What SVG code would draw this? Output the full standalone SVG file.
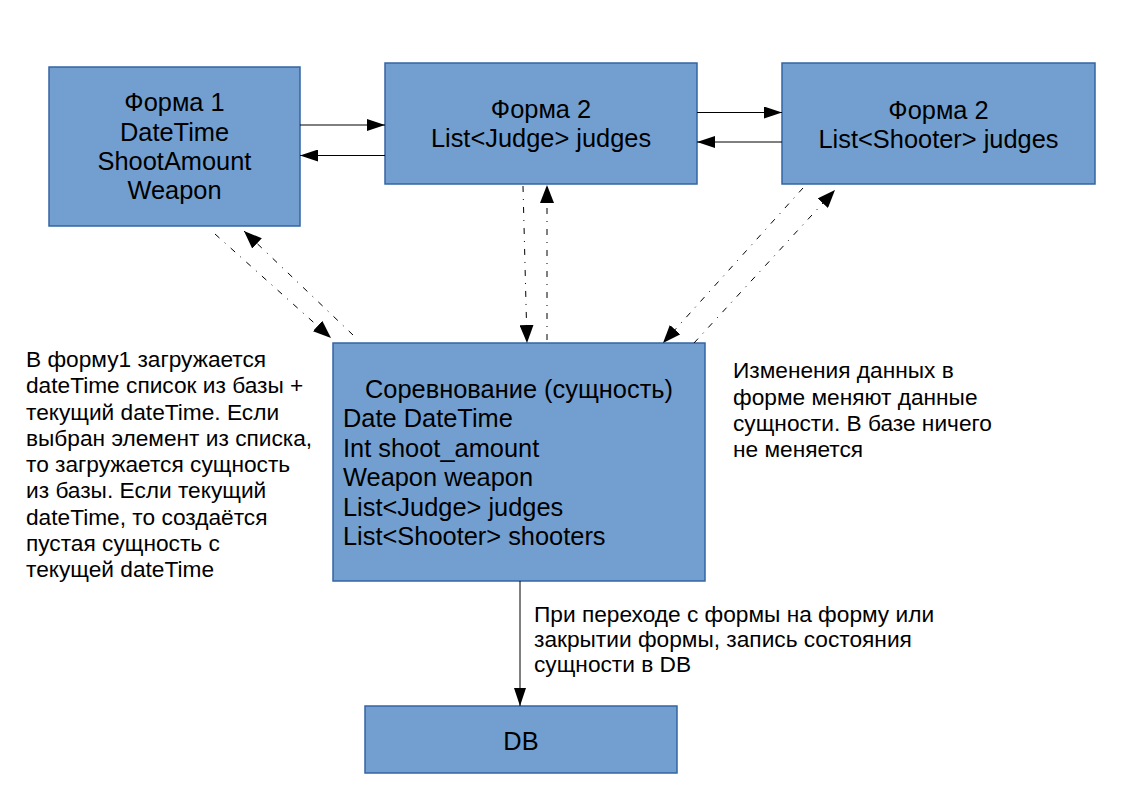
<svg xmlns="http://www.w3.org/2000/svg" width="1123" height="794" viewBox="0 0 1123 794">
<defs>
<style>
.box{fill:#729fcf;stroke:#3465a4;stroke-width:1.5}
.t{font-family:"Liberation Sans",Arial,sans-serif;font-size:25.4px;fill:#000}
.s{font-family:"Liberation Sans",Arial,sans-serif;font-size:22.7px;fill:#000}
.c{text-anchor:middle}
.ln{stroke:#000;stroke-width:1;fill:none}
.dd{stroke:#000;stroke-width:1;fill:none;stroke-dasharray:6 7 1 7}
</style>
<marker id="ah" markerUnits="userSpaceOnUse" markerWidth="18" markerHeight="12" refX="18" refY="6" orient="auto">
<path d="M0,0 L18,6 L0,12 z" fill="#000"/>
</marker>
<marker id="ahd" markerUnits="userSpaceOnUse" markerWidth="18" markerHeight="14" refX="18" refY="7" orient="auto">
<path d="M0,0 L18,7 L0,14 z" fill="#000"/>
</marker>
</defs>
<rect width="1123" height="794" fill="#fff"/>
<g id="forma1">
<rect class="box" x="49" y="67" width="251" height="159"/>
<text class="t c" x="174.5" y="111">Форма 1</text>
<text class="t c" x="174.5" y="141">DateTime</text>
<text class="t c" x="174.5" y="170">ShootAmount</text>
<text class="t c" x="174.5" y="199">Weapon</text>
</g>
<g id="forma2judges">
<rect class="box" x="385" y="63" width="312" height="121"/>
<text class="t c" x="541" y="118">Форма 2</text>
<text class="t c" x="541" y="147">List&lt;Judge&gt; judges</text>
</g>
<g id="forma2shooters">
<rect class="box" x="782" y="63" width="313" height="121"/>
<text class="t c" x="938.5" y="119">Форма 2</text>
<text class="t c" x="938.5" y="148">List&lt;Shooter&gt; judges</text>
</g>
<g id="competition">
<rect class="box" x="333" y="343" width="372" height="238"/>
<text class="t c" x="519" y="398">Соревнование (сущность)</text>
<text class="t" x="343" y="427">Date DateTime</text>
<text class="t" x="343" y="457">Int shoot_amount</text>
<text class="t" x="343" y="486">Weapon weapon</text>
<text class="t" x="343" y="516">List&lt;Judge&gt; judges</text>
<text class="t" x="343" y="545">List&lt;Shooter&gt; shooters</text>
</g>
<g id="db">
<rect class="box" x="365" y="706" width="312" height="67"/>
<text class="t c" x="521" y="750">DB</text>
</g>
<g id="notes">
<text class="s" x="26" y="367">В форму1 загружается</text>
<text class="s" x="26" y="393.3">dateTime список из базы +</text>
<text class="s" x="26" y="419.5">текущий dateTime. Если</text>
<text class="s" x="26" y="445.8">выбран элемент из списка,</text>
<text class="s" x="26" y="472">то загружается сущность</text>
<text class="s" x="26" y="498.3">из базы. Если текущий</text>
<text class="s" x="26" y="524.5">dateTime, то создаётся</text>
<text class="s" x="26" y="550.8">пустая сущность с</text>
<text class="s" x="26" y="577">текущей dateTime</text>
<text class="s" x="733" y="378">Изменения данных в</text>
<text class="s" x="733" y="404.5">форме меняют данные</text>
<text class="s" x="733" y="431">сущности. В базе ничего</text>
<text class="s" x="733" y="457">не меняется</text>
<text class="s" x="534" y="621.5">При переходе с формы на форму или</text>
<text class="s" x="534" y="646.5">закрытии формы, запись состояния</text>
<text class="s" x="534" y="671.5">сущности в DB</text>
</g>
<g id="connectors">
<line class="ln" x1="300" y1="125" x2="385" y2="125" marker-end="url(#ah)"/>
<line class="ln" x1="385" y1="155.5" x2="300" y2="155.5" marker-end="url(#ah)"/>
<line class="ln" x1="697" y1="112.5" x2="782" y2="112.5" marker-end="url(#ah)"/>
<line class="ln" x1="782" y1="142" x2="697" y2="142" marker-end="url(#ah)"/>
<line class="ln" x1="520" y1="581" x2="520" y2="706" marker-end="url(#ah)"/>
<line class="dd" x1="215" y1="234" x2="331" y2="338" marker-end="url(#ahd)"/>
<line class="dd" x1="353" y1="335" x2="244" y2="231" marker-end="url(#ahd)"/>
<line class="dd" x1="523" y1="186" x2="527" y2="343" marker-end="url(#ahd)"/>
<line class="dd" x1="547" y1="340" x2="547" y2="185" marker-end="url(#ahd)"/>
<line class="dd" x1="803" y1="188" x2="663" y2="343" marker-end="url(#ahd)"/>
<line class="dd" x1="694" y1="343" x2="835" y2="190" marker-end="url(#ahd)"/>
</g>
</svg>
